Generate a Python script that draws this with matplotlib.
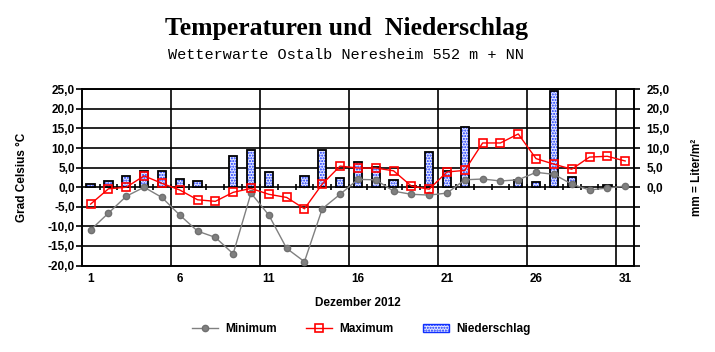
import matplotlib
matplotlib.use("Agg")
import matplotlib.pyplot as plt
from matplotlib.patches import Patch

days = list(range(1, 32))
tmin = [-10.9, -6.6, -2.3, 0.0, -2.6, -7.1, -11.2, -12.8, -17.0, -1.5,
        -7.1, -15.6, -19.0, -5.5, -1.8, 2.0, 1.9, -1.0, -1.8, -2.0,
        -1.5, 1.9, 2.1, 1.6, 1.9, 3.8, 3.3, 0.8, -0.7, -0.2, 0.3]
tmax = [-4.3, -0.4, 0.0, 2.9, 1.0, -0.7, -3.2, -3.6, -1.3, -0.3,
        -1.8, -2.6, -5.5, 0.8, 5.4, 4.9, 4.9, 4.2, 0.3, -0.5,
        3.9, 4.3, 11.3, 11.3, 13.6, 7.3, 5.9, 4.6, 7.7, 7.9, 6.7]
precip = [0.8, 1.5, 2.8, 4.2, 4.2, 2.1, 1.5, 0.0, 7.9, 9.4,
          3.8, 0.0, 2.8, 9.4, 2.3, 6.4, 5.1, 1.8, 0.2, 9.0,
          4.2, 15.3, 0.0, 0.0, 1.9, 1.3, 24.6, 2.6, 0.0, 0.5, 0.0]
xtick_days = [1, 6, 11, 16, 21, 26, 31]
yticks = list(range(-20, 26, 5))

title = "Temperaturen und  Niederschlag"
subtitle = "Wetterwarte Ostalb Neresheim 552 m + NN"

plt.rcParams['font.family'] = ['Liberation Sans', 'DejaVu Sans']
plt.rcParams['hatch.linewidth'] = 1.0

fig = plt.figure(figsize=(7.15, 3.52), dpi=100)
fig.patch.set_facecolor('white')
ax = fig.add_axes([0.1143, 0.2455, 0.7725, 0.5008])
ax2 = ax.twinx()
ax.set_zorder(ax2.get_zorder() + 1)
ax.patch.set_visible(False)

fmt = lambda v: f"{v:.1f}".replace('.', ',')

# gridlines
for y in yticks:
    ax2.axhline(y, color='black', lw=1.2, zorder=0)
for d in xtick_days[1:]:
    ax2.axvline(d - 0.5, color='black', lw=1.2, zorder=0)

bar_face = '#e4e8ff'
bar_hatch_col = '#1030ff'
bar_hatch = '......'
# bars
pd_days = [d for d, p in zip(days, precip) if p > 0]
pv = [p for p in precip if p > 0]
ax2.bar(pd_days, pv, width=0.47, facecolor=bar_face, edgecolor=bar_hatch_col,
        hatch=bar_hatch, linewidth=0, zorder=2)
ax2.bar(pd_days, pv, width=0.47, fill=False, edgecolor='black', linewidth=1.3, zorder=3)

# zero-line boundary ticks
bounds = [d + 0.5 for d in days[:-1]]
ax2.plot(bounds, [0] * len(bounds), linestyle='none', marker='|', color='black',
         markersize=5, markeredgewidth=1.2, zorder=1)

ax.plot(days, tmin, color='#808080', lw=1, marker='o', markersize=4.5,
        markerfacecolor='#808080', markeredgecolor='#707070', zorder=4, label='Minimum')
ax.plot(days, tmax, color='red', lw=1, marker='s', markersize=5.5,
        markerfacecolor='none', markeredgecolor='red', markeredgewidth=1.2, zorder=5,
        label='Maximum')

for a in (ax, ax2):
    a.set_xlim(0.5, 31.5)
    a.set_ylim(-20, 25)
    for s in a.spines.values():
        s.set_color('black')
        s.set_linewidth(1.2)

ax.set_yticks(yticks)
ax.set_yticklabels([fmt(v) for v in yticks], fontsize=8.5, fontweight='bold')
ax.tick_params(axis='y', direction='out', length=4, width=1.2, pad=1)
ax.set_xticks(xtick_days)
ax.set_xticklabels([str(d) for d in xtick_days], fontsize=8.5, fontweight='bold')
ax.tick_params(axis='x', length=0, pad=5)

ax2.set_yticks(yticks)
ax2.set_yticklabels([fmt(v) if v >= 0 else '' for v in yticks], fontsize=8.5, fontweight='bold')
ax2.tick_params(axis='y', direction='out', length=4, width=1.2, pad=5)

ax.set_xlabel("Dezember 2012", fontsize=8.5, fontweight='bold', labelpad=9)
ax.set_ylabel("Grad Celsius °C", fontsize=8.5, fontweight='bold', labelpad=14)
ax2.set_ylabel("mm = Liter/m²", fontsize=8.5, fontweight='bold', labelpad=15)

fig.text(0.484, 0.918, title, ha='center', va='center', fontsize=18.5, fontweight='bold',
         family='Liberation Serif')
fig.text(0.484, 0.843, subtitle, ha='center', va='center', fontsize=11,
         family='Liberation Mono')

# legend
h1, l1 = ax.get_legend_handles_labels()
ph = Patch(facecolor=bar_face, edgecolor=bar_hatch_col, hatch=bar_hatch, label='Niederschlag')
fig.legend(h1 + [ph], l1 + ['Niederschlag'], loc='center', bbox_to_anchor=(0.505, 0.066),
           ncol=3, frameon=False, prop={'weight': 'bold', 'size': 8.5},
           handlelength=2.2, columnspacing=2.5, handletextpad=0.6)

fig.savefig('out.png', dpi=100, facecolor='white')
